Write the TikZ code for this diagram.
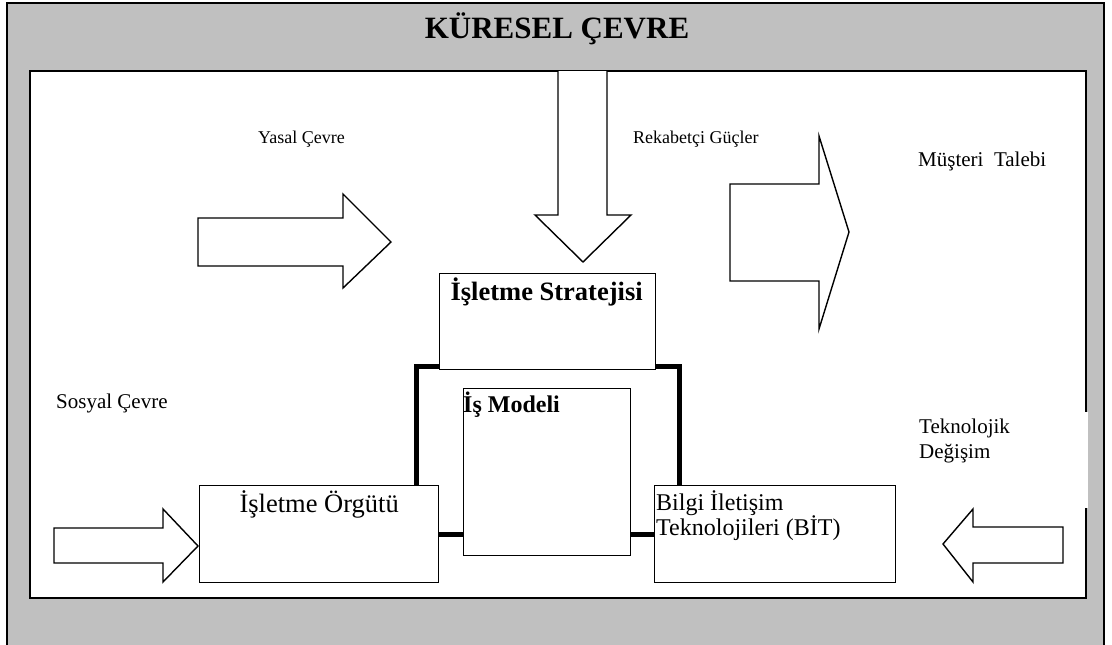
\documentclass[tikz,border=0pt]{standalone}
\usepackage{fontspec}
\setmainfont{Liberation Serif}
\begin{document}
\begin{tikzpicture}[x=1pt,y=-1pt,
  box/.style={draw=black, line width=1.3pt, fill=white, anchor=north west, inner sep=0pt},
  blockarrow/.style={draw=black, line width=1.4pt, fill=white, line join=miter},
  link/.style={line width=5pt},
  lbl/.style={inner sep=0pt, anchor=base west, font=\fontsize{21}{25}\selectfont, align=left},
  smalllbl/.style={inner sep=0pt, anchor=base west, font=\fontsize{18}{21}\selectfont},
  boxtext/.style={inner sep=0pt, font=\fontsize{24}{25}\selectfont},
  boldtext/.style={inner sep=0pt, font=\fontsize{24}{26}\selectfont\bfseries}]
\useasboundingbox (0,0) rectangle (1112,645);

% global environment frame
\fill[white] (0,0) rectangle (1112,645);
\draw[line width=1.5pt, fill={rgb,255:red,192;green,192;blue,192}] (7,3) rectangle (1104,650);
\node[inner sep=0pt, anchor=base, font=\fontsize{31}{34}\selectfont\bfseries] (title) at (557,38) {KÜRESEL ÇEVRE};

% inner environment
\draw[line width=1.8pt, fill=white] (30,71) rectangle (1086,598);
\fill[white] (1083.5,412) rectangle (1087.5,508);

% environment labels
\node[smalllbl] (yasal) at (258,143) {Yasal Çevre};
\node[smalllbl] (rekabet) at (633,143) {Rekabetçi Güçler};
\node[lbl] (musteri) at (918,166) {Müşteri\ \ Talebi};
\node[lbl] (sosyal) at (56,408) {Sosyal Çevre};
\node[lbl] (tekno) at (919,458) {Teknolojik\\Değişim};

% block arrows
\draw[blockarrow] (198,218) -- (343,218) -- (343,194) -- (391,242) -- (343,288) -- (343,266) -- (198,266) -- cycle;
\draw[blockarrow] (558,71) -- (558,215) -- (535,215) -- (583,262) -- (631,215) -- (607,215) -- (607,71);
\draw[blockarrow] (730,184) -- (819,184) -- (819,136) -- (849,232) -- (819,329) -- (819,281) -- (730,281) -- cycle;
\draw[blockarrow] (54,528) -- (163,528) -- (163,509) -- (198,546) -- (163,582) -- (163,563) -- (54,563) -- cycle;
\draw[blockarrow] (1063,527) -- (973,527) -- (973,509) -- (943,544) -- (973,582) -- (973,563) -- (1063,563) -- cycle;

% organisation boxes
\node[box, minimum width=216pt, minimum height=96pt] (strat) at (439,273) {};
\node[box, minimum width=167pt, minimum height=167pt] (model) at (463,388) {};
\node[box, minimum width=239pt, minimum height=97pt] (org) at (199,485) {};
\node[box, minimum width=241pt, minimum height=97pt] (bit) at (654,485) {};

% thick links between the boxes
\draw[link] ([yshift=4pt]strat.south west) -| ([xshift=-23pt]org.north east);
\draw[link] ([yshift=4pt]strat.south east) -| ([xshift=25pt]bit.north west);
\draw[link] (org.east) -- (org.east -| model.west);
\draw[link] (model.east |- bit.west) -- (bit.west);

% box titles
\node[boldtext, font=\fontsize{26.5}{28}\selectfont\bfseries, anchor=base] (strattext) at ([xshift=-1pt,yshift=-27pt]strat.north) {İşletme Stratejisi};
\node[boldtext, anchor=base west] (modeltext) at ([yshift=-24pt]model.north west) {İş Modeli};
\node[boxtext, font=\fontsize{26.5}{28}\selectfont, anchor=base] (orgtext) at ([yshift=-27pt]org.north) {İşletme Örgütü};
\node[boxtext, anchor=base west, align=left] (bittext) at ([xshift=2pt,yshift=-50pt]bit.north west) {Bilgi İletişim\\Teknolojileri (BİT)};
\end{tikzpicture}
\end{document}
